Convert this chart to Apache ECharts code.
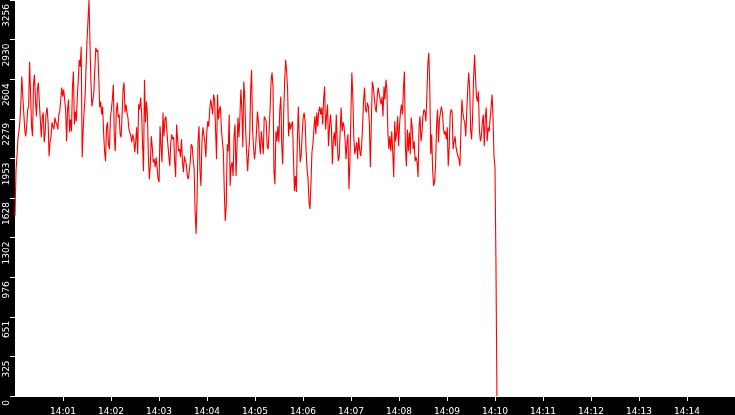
<!DOCTYPE html>
<html>
<head>
<meta charset="utf-8">
<script src="https://cdn.jsdelivr.net/npm/echarts@6/dist/echarts.min.js"></script>
<style>
  html, body { margin: 0; padding: 0; background: #000; }
  #main { width: 735px; height: 415px; }
</style>
</head>
<body>
<div id="main"></div>
<script>
// 14:00 - 14:10 读数，按分段记录
var seg1 = [1480,1849,1971,2110,2176,2258,2413,2626,2462,2331,2192,2135,2217,2356,2380,2749,2749,2217,2135,2560,
  2642,2438,2299,2520,2577,2413,2274,2127,2290,2331,2086,2168,2331,2372,2250,1971,2086,2135,2250,2217,
  2192,2290,2250,2233,2192,2315,2339,2438,2536,2462,2520,2438,2356,2094,2356,2438,2168,2274,2176,2536,
  2667,2233,2339,2258,2462,2601,2765,2708,2871,1963,2192,2339,2462,2708,2928,3092,3256,2904,2577,2380,
  2438,2495,2683,2863];
var seg2 = [2830,2847,2626,2372,2421,2315,2380,2168,2012,1931,2209,2250,2070,2029,2290,2356,2438,2560,2127,2012,
  2331,2413,2290,2315,2151,2127,2315,2520,2577,2331,2397,2331,2290,2192,2168,2135,2086,2151,2110,2004,
  2094,2209,1988,2397,2356,2454,2339,2070,1849,2601,2250,2421,2315,1971,1783,1906,2135,2045,1922,1947,
  1881,1963,1947,1783,1759,2217,2053,1922,2331,2135,2274,2299,2176,2070,1971,1890,2086,2151,2110,2127,
  1931,1800,2233,2110,2012,2029];
var seg3 = [1963,2110,1922,1841,1971,1931,1906,1808,1783,1767,1922,2070,2053,1947,1865,1513,1333,1620,2094,2217,
  1849,1726,2086,2209,2217,2086,1963,2168,2258,2217,2356,2438,2380,2315,2479,2438,2192,1947,2479,2274,
  2356,2380,2192,2094,2012,1677,1440,1562,2070,2012,2315,1726,1890,1922,1808,2135,2233,1808,2045,2290,
  2127,2290,2520,2356,2045,2585,2462,2168,1988,1849,2012,2110,2503,2683,2192,2045,1947,2029,2168,2339,
  2258,2094,1988,2176,2086];
var seg4 = [1988,2299,2290,2258,2053,2029,2176,2356,2585,2659,2544,1849,1742,2176,2094,2217,2086,2356,2462,2053,
  1906,2331,2601,2765,2667,2520,2135,2250,2192,2233,2258,1971,1685,1808,1677,2094,2380,2110,1922,1988,
  2151,2290,2331,2250,2012,1865,1783,1595,1538,1742,2004,2070,2192,2299,2151,2331,2217,2339,2380,2315,
  2372,2233,2438,2544,2192,2299,2397,2053,2209,2315,2209,1906,2110,2168,2053,2315,2086,1931,1971,2176,
  2372,2176,2250,2217];
var seg5 = [2110,1947,2086,2151,1701,1922,2315,2659,2462,2127,1988,2004,2086,1947,2127,2029,1971,2045,2217,2421,
  2536,2356,2331,2413,2380,2233,1881,2250,2585,2544,2454,2372,2331,2462,2536,2520,2438,2397,2462,2299,
  2544,2438,2601,2520,2168,2029,2135,2012,2176,2004,1800,2258,2094,2168,2299,2053,2233,2339,2397,2315,
  2536,2667,2045,1890,2192,2012,2168,1988,2290,2209,2029,2094,1931,1963,1922,1800,2209,2299,2094,2168,
  2299,2356,2339,2258];
var seg6 = [2454,2724,2822,2560,1988,2151,1849,1726,1767,1906,2217,2356,2086,2274,2331,2380,2331,2209,2151,2176,
  2110,2209,1890,2045,2315,2356,2339,2029,2094,2135,2045,2004,1971,1947,1890,2176,2438,2331,2274,2250,
  2135,2339,2520,2659,2536,2192,2110,2290,2601,2806,2626,2462,2421,2503,2192,2094,2135,2250,2315,2053,
  2290,2372,2094,2209,2176,2274,2372,2479,2290,1971,1881,1100,0];

var yMax = 3256;          // 纵轴上限
var spanMin = 10.04;      // 数据跨度（分钟）

var values = seg1.concat(seg2, seg3, seg4, seg5, seg6);
var points = values.map(function (v, i) {
    return [i * spanMin / (values.length - 1), v];
});

var myChart = echarts.init(document.getElementById('main'));

var option = {
    backgroundColor: '#000',
    animation: false,
    grid: {
        left: 15,
        right: 0,
        top: 0,
        bottom: 19,
        show: true,
        backgroundColor: '#fff',
        borderWidth: 0,
        outerBoundsMode: 'none'
    },
    xAxis: {
        type: 'value',
        min: 0,
        max: 15,
        interval: 1,
        offset: 2,
        axisLine: { lineStyle: { color: '#fff', width: 1 } },
        axisTick: { length: 5, lineStyle: { color: '#fff' } },
        splitLine: { show: false },
        axisLabel: {
            color: '#fff',
            fontSize: 9,
            fontFamily: 'DejaVu Sans',
            margin: 9,
            showMinLabel: false,
            showMaxLabel: false,
            formatter: function (v) {
                return '14:' + (v < 10 ? '0' : '') + v;
            }
        }
    },
    yAxis: {
        type: 'value',
        min: 0,
        max: yMax,
        interval: yMax / 10,
        axisLine: { show: false },
        axisTick: { show: true, length: 5, lineStyle: { color: '#fff' } },
        splitLine: { show: false },
        axisLabel: {
            color: '#fff',
            fontSize: 9,
            fontFamily: 'DejaVu Sans',
            rotate: 90,
            margin: 4,
            align: 'right',
            verticalAlign: 'bottom',
            padding: [0, 4, 0, 0],
            formatter: function (v) {
                return Math.floor(v + 1e-6);
            }
        }
    },
    series: [{
        type: 'line',
        data: points,
        showSymbol: false,
        symbol: 'none',
        sampling: false,
        lineStyle: { color: '#ff0000', width: 1.1 }
    }]
};

myChart.setOption(option);
</script>
</body>
</html>
